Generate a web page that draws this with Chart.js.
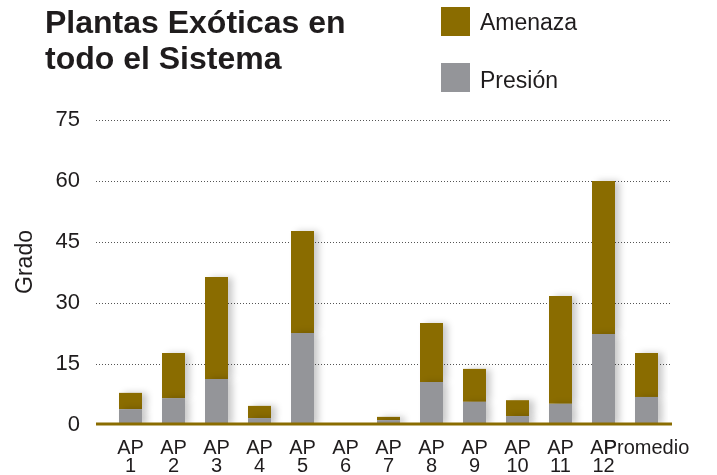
<!DOCTYPE html>
<html>
<head>
<meta charset="utf-8">
<script src="https://cdn.jsdelivr.net/npm/chart.js@4"></script>
<style>
  html, body { margin: 0; padding: 0; background: #fff; }
  #wrap { position: relative; width: 717px; height: 475px; }
</style>
</head>
<body>
<div id="wrap"><canvas id="myChart" width="717" height="475"></canvas></div>
<script>
// chart values
const categories = [['AP', '1'], ['AP', '2'], ['AP', '3'], ['AP', '4'], ['AP', '5'], ['AP', '6'], ['AP', '7'],
  ['AP', '8'], ['AP', '9'], ['AP', '10'], ['AP', '11'], ['AP', '12'], 'Promedio'];
const presion = [3.9, 6.6, 11.3, 1.7, 22.6, 0, 1.2, 10.6, 5.7, 2.2, 5.2, 22.4, 6.9];
const amenaza = [4.0, 11.1, 25.1, 3.0, 25.1, 0, 0.8, 14.5, 8.1, 3.9, 26.5, 37.6, 10.8];
const yTicks = [0, 15, 30, 45, 60, 75];

const OLIVE = '#8a6c00';
const GRAY = '#949599';
const INK = '#1f1c1d';
const FONT = '"Liberation Sans", Arial, Helvetica, sans-serif';

// dotted grid, axis line, title, legend and y title
const decor = {
  id: 'decor',
  beforeDatasetsDraw(chart) {
    const ctx = chart.ctx;
    const y = chart.scales.y;
    ctx.save();
    ctx.strokeStyle = '#555';
    ctx.lineWidth = 1;
    ctx.setLineDash([1, 2]);
    yTicks.forEach(v => {
      if (v === 0) return;
      const py = Math.round(y.getPixelForValue(v)) + 0.5;
      ctx.beginPath();
      ctx.moveTo(96, py);
      ctx.lineTo(672, py);
      ctx.stroke();
    });
    ctx.restore();
    // soft shadow behind bars
    ctx.save();
    ctx.shadowColor = 'rgba(0,0,0,0.22)';
    ctx.shadowBlur = 7;
    ctx.shadowOffsetX = 5;
    ctx.shadowOffsetY = 0;
  },
  afterDatasetsDraw(chart) {
    const ctx = chart.ctx;
    ctx.restore();
    const y = chart.scales.y;
    const py = y.getPixelForValue(0) - 1;
    ctx.save();
    ctx.strokeStyle = OLIVE;
    ctx.lineWidth = 3;
    ctx.beginPath();
    ctx.moveTo(96, py);
    ctx.lineTo(672, py);
    ctx.stroke();
    ctx.restore();
  },
  afterDraw(chart) {
    const ctx = chart.ctx;
    ctx.save();
    ctx.fillStyle = INK;
    ctx.textAlign = 'left';
    ctx.textBaseline = 'alphabetic';
    ctx.font = 'bold 32px ' + FONT;
    ctx.fillText('Plantas Exóticas en', 45, 33);
    ctx.fillText('todo el Sistema', 45, 69);

    // legend, top item is the top of the stack
    const items = chart.data.datasets.slice().reverse();
    const rows = [{ box: 7, text: 30 }, { box: 63, text: 88 }];
    ctx.font = '23px ' + FONT;
    items.forEach((ds, i) => {
      ctx.fillStyle = ds.backgroundColor;
      ctx.fillRect(441, rows[i].box, 29, 29);
      ctx.fillStyle = INK;
      ctx.fillText(ds.label, 480, rows[i].text);
    });

    // y axis title
    ctx.translate(26, 262);
    ctx.rotate(-Math.PI / 2);
    ctx.textAlign = 'center';
    ctx.textBaseline = 'middle';
    ctx.font = '23px ' + FONT;
    ctx.fillText('Grado', 0, 0);
    ctx.restore();
  }
};

new Chart(document.getElementById('myChart'), {
  type: 'bar',
  data: {
    labels: categories,
    datasets: [
      { label: 'Presión', data: presion, backgroundColor: GRAY, categoryPercentage: 1, barPercentage: 0.535 },
      { label: 'Amenaza', data: amenaza, backgroundColor: OLIVE, categoryPercentage: 1, barPercentage: 0.535 }
    ]
  },
  options: {
    responsive: false,
    animation: false,
    layout: { padding: { top: 120, right: 49, left: 0, bottom: 0 } },
    plugins: {
      legend: { display: false },
      tooltip: { enabled: false }
    },
    scales: {
      x: {
        stacked: true,
        grid: { display: false, drawTicks: false },
        border: { display: false },
        afterFit(s) { s.height = 50; },
        ticks: {
          padding: 14,
          maxRotation: 0,
          autoSkip: false,
          color: INK,
          font: { family: FONT, size: 20, lineHeight: 0.92 }
        }
      },
      y: {
        stacked: true,
        min: 0,
        max: 75,
        grid: { display: false, drawTicks: false },
        border: { display: false },
        afterFit(s) { s.width = 109; },
        afterBuildTicks(s) { s.ticks = yTicks.map(v => ({ value: v })); },
        ticks: {
          padding: 29,
          color: INK,
          font: { family: FONT, size: 22 }
        }
      }
    }
  },
  plugins: [decor]
});
</script>
</body>
</html>
